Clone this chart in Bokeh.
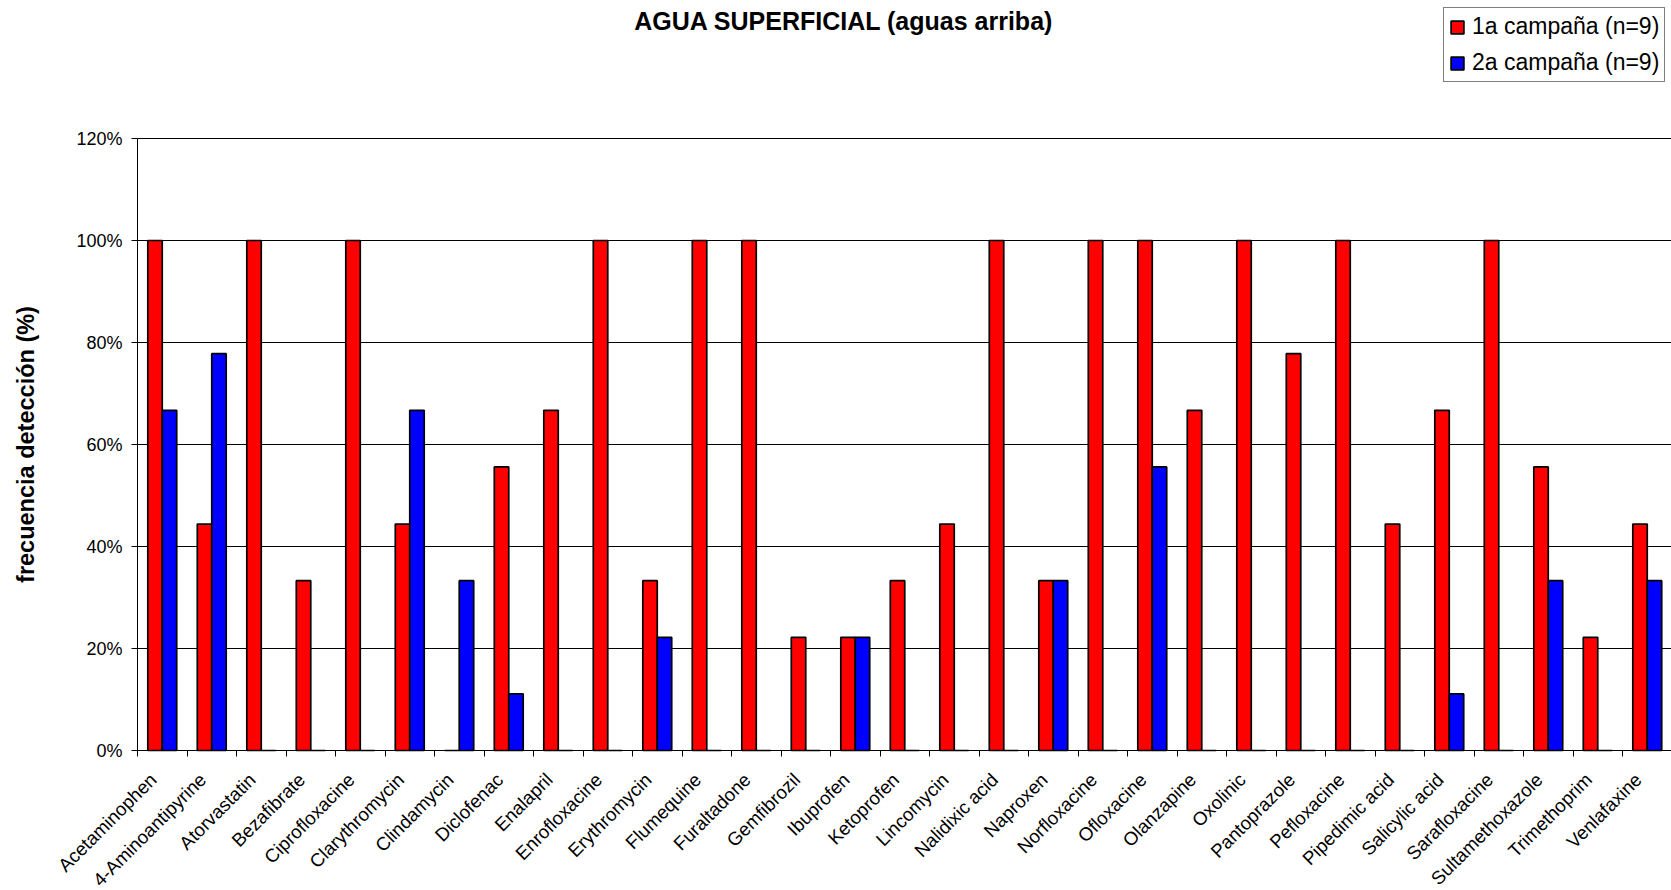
import numpy as np
from bokeh.plotting import figure
from bokeh.models import (ColumnDataSource, Range1d, FixedTicker, PrintfTickFormatter,
                          CustomJSTickFormatter, Label, Legend, LegendItem, Grid)
from bokeh.transform import dodge
from bokeh.embed import file_html
from bokeh.resources import INLINE

# ---------------- data ----------------
compounds = ["Acetaminophen", "4-Aminoantipyrine", "Atorvastatin", "Bezafibrate",
             "Ciprofloxacine", "Clarythromycin", "Clindamycin", "Diclofenac",
             "Enalapril", "Enrofloxacine", "Erythromycin", "Flumequine",
             "Furaltadone", "Gemfibrozil", "Ibuprofen", "Ketoprofen", "Lincomycin",
             "Nalidixic acid", "Naproxen", "Norfloxacine", "Ofloxacine", "Olanzapine",
             "Oxolinic", "Pantoprazole", "Pefloxacine", "Pipedimic acid",
             "Salicylic acid", "Sarafloxacine", "Sultamethoxazole", "Trimethoprim",
             "Venlafaxine"]
campaign1 = [100, 44.4, 100, 33.3, 100, 44.4, 0, 55.6, 66.7, 100, 33.3, 100, 100,
             22.2, 22.2, 33.3, 44.4, 100, 33.3, 100, 100, 66.7, 100, 77.8, 100,
             44.4, 66.7, 100, 55.6, 22.2, 44.4]
campaign2 = [66.7, 77.8, 0, 0, 0, 66.7, 33.3, 11.1, 0, 0, 22.2, 0, 0, 0, 22.2, 0,
             0, 0, 33.3, 0, 55.6, 0, 0, 0, 0, 0, 11.1, 0, 33.3, 0, 33.3]
series_names = ["1a campaña (n=9)", "2a campaña (n=9)"]
series_colors = ["#FF0000", "#0000FF"]
y_ticks = [0, 20, 40, 60, 80, 100, 120]
title_text = "AGUA SUPERFICIAL (aguas arriba)"
y_label = "frecuencia detección (%)"

# ---------------- layout / style (pixel geometry) ----------------
W, H = 1671, 890
PLOT_LEFT, PLOT_TOP, PLOT_BOTTOM = 137, 138, 750   # pixel edges of the plotting area
CAT_PX = 49.5
FONT = "Liberation Sans"
n = len(compounds)
y_top = y_ticks[-1]
px_y = (PLOT_BOTTOM - PLOT_TOP) / y_top            # pixels per percentage point

x_start = -PLOT_LEFT / CAT_PX
x_end = (W - PLOT_LEFT) / CAT_PX
y_start = -(H - PLOT_BOTTOM) / px_y
y_end = y_top + PLOT_TOP / px_y
LABEL_SHIFT = 9 / CAT_PX      # nudge rotated category labels so they end under the slot


def dx(px):   # pixel column -> data x
    return (px - PLOT_LEFT) / CAT_PX


def dy(py):   # pixel row -> data y
    return (PLOT_BOTTOM - py) / px_y


centers = np.arange(n) + 0.5
boundaries = list(range(n + 1))
src = ColumnDataSource(dict(x=centers, c1=campaign1, c2=campaign2))

p = figure(width=W, height=H, x_range=Range1d(x_start, x_end), y_range=Range1d(y_start, y_end),
           output_backend="svg", toolbar_location=None,
           min_border_left=0, min_border_right=0, min_border_top=0, min_border_bottom=0)
p.outline_line_color = None

BAR_W = 0.292
r1 = p.vbar(x=dodge("x", -0.146, range=p.x_range), top="c1", width=BAR_W, source=src,
            fill_color=series_colors[0], line_color="black", line_width=1.7)
r2 = p.vbar(x=dodge("x", 0.146, range=p.x_range), top="c2", width=BAR_W, source=src,
            fill_color=series_colors[1], line_color="black", line_width=1.7)

# x axis at y = 0: labels under each category, ticks at category boundaries
p.xaxis.fixed_location = 0
p.xaxis.bounds = (0, x_end)
p.xaxis.ticker = FixedTicker(ticks=list(centers - LABEL_SHIFT), minor_ticks=boundaries)
p.xaxis.formatter = CustomJSTickFormatter(args=dict(names=compounds),
                                          code="return names[Math.floor(tick)] || ''")
p.xaxis.major_label_orientation = np.pi / 4
p.xaxis.major_tick_out = 0
p.xaxis.major_tick_in = 0
p.xaxis.major_tick_line_color = None
p.xaxis.minor_tick_out = 6
p.xaxis.minor_tick_in = 0
p.xaxis.minor_tick_line_color = "black"
p.xaxis.axis_line_color = "black"
p.xaxis.major_label_standoff = 20
p.xaxis.major_label_text_font = FONT
p.xaxis.major_label_text_font_size = "18.7px"
p.xaxis.major_label_text_color = "black"
p.xgrid.grid_line_color = None

# y axis at x = 0
p.yaxis.fixed_location = 0
p.yaxis.bounds = (0, y_top)
p.yaxis.ticker = FixedTicker(ticks=y_ticks)
p.yaxis.formatter = PrintfTickFormatter(format="%d%%")
p.yaxis.major_tick_out = 6
p.yaxis.major_tick_in = 0
p.yaxis.minor_tick_line_color = None
p.yaxis.axis_line_color = "black"
p.yaxis.major_tick_line_color = "black"
p.yaxis.major_label_standoff = 9
p.yaxis.major_label_text_font = FONT
p.yaxis.major_label_text_font_size = "18px"
p.yaxis.major_label_text_color = "black"
p.yaxis.axis_label = y_label
p.yaxis.axis_label_text_font = FONT
p.yaxis.axis_label_text_font_size = "23.5px"
p.yaxis.axis_label_text_font_style = "bold"
p.yaxis.axis_label_text_color = "black"
p.yaxis.axis_label_standoff = 34

p.ygrid.ticker = FixedTicker(ticks=y_ticks)
p.ygrid.grid_line_color = "black"
p.ygrid.grid_line_width = 1
if "cross_bounds" in Grid.properties():
    p.ygrid.cross_bounds = (0, x_end)
else:
    p.quad(left=x_start, right=0, bottom=0, top=y_top + 1, fill_color="white",
           line_color=None, level="underlay")

# title
p.add_layout(Label(x=dx(843.5), y=dy(20), text=title_text, text_align="center",
                   text_baseline="middle", text_font=FONT, text_font_size="25px",
                   text_font_style="bold", text_color="black"))

# legend (top-right corner, outside the bar area)
legend = Legend(items=[LegendItem(label=series_names[0], renderers=[r1]),
                       LegendItem(label=series_names[1], renderers=[r2])],
                location=(1443, H - 82),
                label_text_font=FONT, label_text_font_size="23px",
                label_text_color="black", glyph_width=16, glyph_height=16,
                label_standoff=7, padding=5, spacing=9, margin=0, label_height=25,
                border_line_color="black", border_line_width=1,
                background_fill_color="white", background_fill_alpha=1)
p.add_layout(legend)

open("out.html", "w").write(file_html(p, INLINE))
